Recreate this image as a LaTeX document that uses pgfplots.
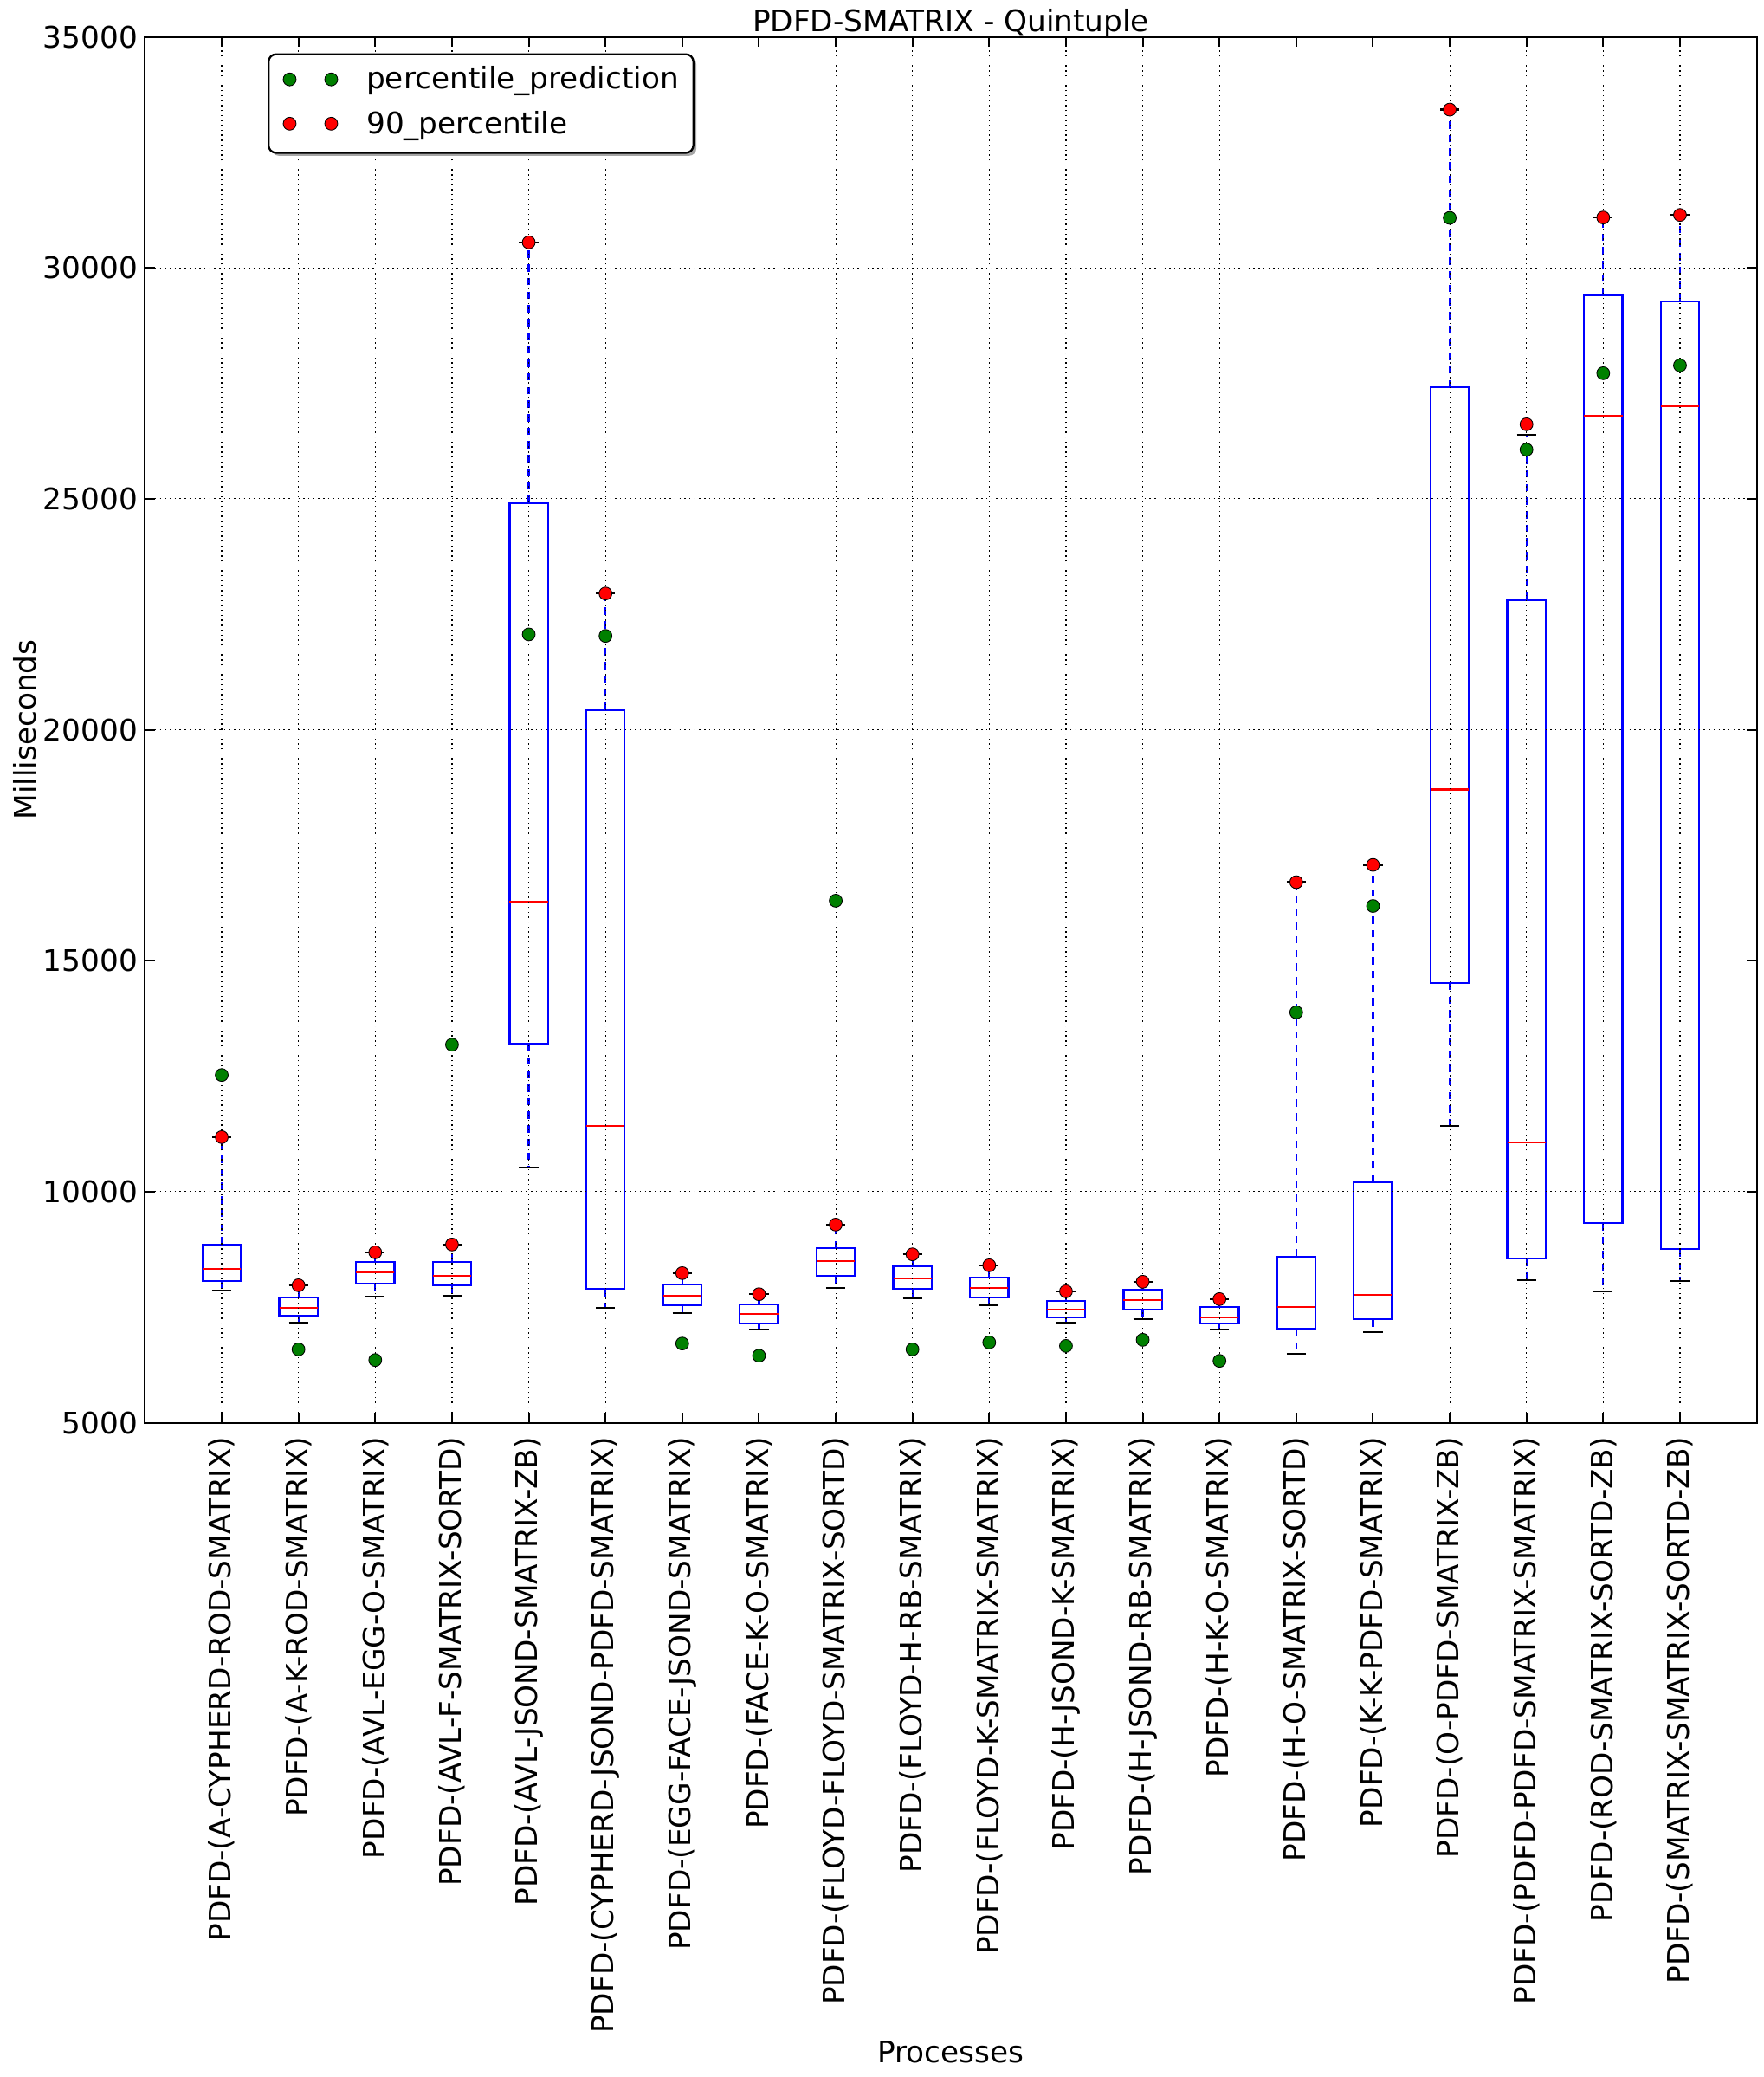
\documentclass[12pt,border=0pt]{standalone}
\usepackage{fontspec}
\setmainfont{DejaVu Sans}
\usepackage{pgfplots}
\pgfplotsset{compat=1.18}
\usetikzlibrary{shadows}
\definecolor{mplgreen}{rgb}{0,0.5,0}
\definecolor{mplred}{rgb}{1,0,0}
\definecolor{mplblue}{rgb}{0,0,1}
\pgfplotsset{
  twomarks/.style={legend image code/.code={\draw[##1] plot coordinates {(0pt,0.8pt) (16.8pt,0.8pt)};}},
  whisk/.style={forget plot, mplblue, line width=0.8pt, dash pattern=on 3pt off 2.5pt},
  capline/.style={forget plot, black, line width=0.9pt},
  boxline/.style={forget plot, mplblue, line width=0.8pt, line join=miter},
  medline/.style={forget plot, mplred, line width=0.8pt},
}
% draw position, lower whisker, lower quartile, median, upper quartile, upper whisker
\newcommand\bp[6]{%
  \pgfmathsetmacro\bpxl{#1-0.25}\pgfmathsetmacro\bpxr{#1+0.25}%
  \pgfmathsetmacro\bpcl{#1-0.125}\pgfmathsetmacro\bpcr{#1+0.125}%
  \addplot[whisk] coordinates {(#1,#3) (#1,#2)};
  \addplot[whisk] coordinates {(#1,#5) (#1,#6)};
  \addplot[capline] coordinates {(\bpcl,#2) (\bpcr,#2)};
  \addplot[capline] coordinates {(\bpcl,#6) (\bpcr,#6)};
  \addplot[boxline] coordinates {(\bpxl,#3) (\bpxr,#3) (\bpxr,#5) (\bpxl,#5) (\bpxl,#3) (\bpxr,#3)};
  \addplot[medline] coordinates {(\bpxl,#4) (\bpxr,#4)};
}
\begin{document}
\begin{tikzpicture}
\begin{axis}[
  at={(0,0)}, anchor=south west,
  width=651.4pt, height=560pt, scale only axis,
  xmin=0, xmax=21, ymin=5000, ymax=35000,
  xtick={1,...,20},
  xticklabels={PDFD-(A-CYPHERD-ROD-SMATRIX),PDFD-(A-K-ROD-SMATRIX),PDFD-(AVL-EGG-O-SMATRIX),PDFD-(AVL-F-SMATRIX-SORTD),PDFD-(AVL-JSOND-SMATRIX-ZB),PDFD-(CYPHERD-JSOND-PDFD-SMATRIX),PDFD-(EGG-FACE-JSOND-SMATRIX),PDFD-(FACE-K-O-SMATRIX),PDFD-(FLOYD-FLOYD-SMATRIX-SORTD),PDFD-(FLOYD-H-RB-SMATRIX),PDFD-(FLOYD-K-SMATRIX-SMATRIX),PDFD-(H-JSOND-K-SMATRIX),PDFD-(H-JSOND-RB-SMATRIX),PDFD-(H-K-O-SMATRIX),PDFD-(H-O-SMATRIX-SORTD),PDFD-(K-K-PDFD-SMATRIX),PDFD-(O-PDFD-SMATRIX-ZB),PDFD-(PDFD-PDFD-SMATRIX-SMATRIX),PDFD-(ROD-SMATRIX-SORTD-ZB),PDFD-(SMATRIX-SMATRIX-SORTD-ZB)},
  ytick={5000,10000,...,35000},
  scaled y ticks=false,
  /pgf/number format/1000 sep={},
  /pgf/number format/assume math mode=true,
  yticklabel style={anchor=east, inner sep=0pt, xshift=-2.8pt, /pgf/number format/fixed},
  xticklabel style={inner sep=0pt, yshift=-5.6pt, rotate=90, anchor=east},
  tick align=inside, major tick length=4pt,
  tick style={black, line width=0.7pt},
  axis line style={black, line width=0.7pt},
  grid=major,
  grid style={black, line width=0.4pt, dash pattern=on 0.5pt off 1.5pt},
  axis on top,
  title={PDFD-SMATRIX - Quintuple},
  every axis title/.style={at={(axis description cs:0.5,1.00375)}, anchor=base, inner sep=0pt},
  xlabel={Processes},
  every axis x label/.style={at={(axis description cs:0.5,-0.4618)}, anchor=base, inner sep=0pt},
  ylabel={Milliseconds},
  every axis y label/.style={at={(axis description cs:-0.06755,0.5)}, rotate=90, anchor=base, inner sep=0pt},
  legend style={at={(axis description cs:0.0761,0.98813)}, anchor=north west, draw=black, line width=0.8pt, rounded corners=3pt, fill=white,
    drop shadow={shadow xshift=1.2pt, shadow yshift=-1.2pt, fill=gray!70, opacity=1},
    inner xsep=5.9pt, inner ysep=5pt, row sep=6.0pt, column sep=11.65pt,
    nodes={inner sep=0pt, text height=9.1pt, text depth=2.8pt}},
  legend cell align=left,
]
\bp{1}{7857}{8064}{8326}{8857}{11182}
\bp{2}{7163}{7313}{7482}{7707}{7975}
\bp{3}{7726}{8007}{8251}{8482}{8688}
\bp{4}{7745}{7970}{8176}{8482}{8857}
\bp{5}{10520}{13207}{16269}{24907}{30551}
\bp{6}{7482}{7895}{11420}{20426}{22951}
\bp{7}{7370}{7550}{7745}{7994}{8238}
\bp{8}{7014}{7145}{7351}{7563}{7782}
\bp{9}{7914}{8176}{8495}{8776}{9288}
\bp{10}{7689}{7895}{8120}{8382}{8645}
\bp{11}{7539}{7707}{7914}{8144}{8407}
\bp{12}{7163}{7276}{7451}{7638}{7844}
\bp{13}{7244}{7445}{7657}{7882}{8051}
\bp{14}{7014}{7145}{7282}{7507}{7676}
\bp{15}{6489}{7033}{7501}{8594}{16701}
\bp{16}{6963}{7239}{7764}{10201}{17074}
\bp{17}{11420}{14519}{18706}{27414}{33425}
\bp{18}{8083}{8551}{11064}{22807}{26382}
\bp{19}{7844}{9320}{26801}{29401}{31089}
\bp{20}{8064}{8758}{27007}{29276}{31145}
\addplot[only marks, mark=*, mark size=2.6pt, mark options={fill=mplgreen, draw=black, line width=0.3pt}, twomarks]
  coordinates {(1,12526) (2,6588) (3,6357) (4,13182) (5,22065) (6,22032) (7,6714) (8,6451) (9,16300) (10,6588)
  (11,6738) (12,6663) (13,6794) (14,6339) (15,13882) (16,16185) (17,31081) (18,26064) (19,27719) (20,27888)};
\addlegendentry{percentile\_prediction}
\addplot[only marks, mark=*, mark size=2.6pt, mark options={fill=mplred, draw=black, line width=0.3pt}, twomarks]
  coordinates {(1,11182) (2,7975) (3,8688) (4,8857) (5,30551) (6,22951) (7,8238) (8,7782) (9,9288) (10,8645)
  (11,8407) (12,7844) (13,8051) (14,7676) (15,16701) (16,17074) (17,33425) (18,26613) (19,31089) (20,31145)};
\addlegendentry{90\_percentile}
\end{axis}
\pgfresetboundingbox
\path[use as bounding box] (-58.6pt,-264.4pt) rectangle (654.1pt,574.9pt);
\end{tikzpicture}
\end{document}
